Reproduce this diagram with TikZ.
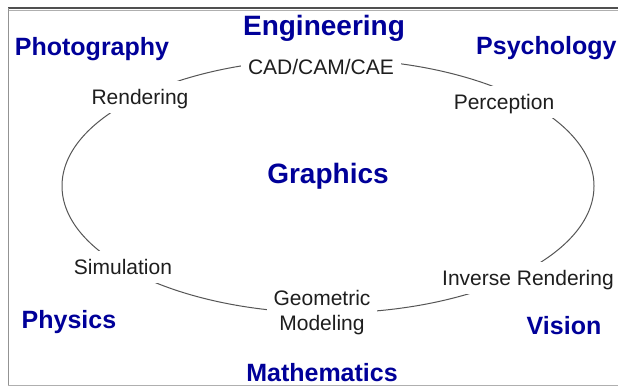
\documentclass[tikz,border=0pt]{standalone}
\usepackage{fontspec}
\setmainfont{Liberation Sans}
\definecolor{fieldblue}{RGB}{0,0,153}
\definecolor{ringgray}{RGB}{85,85,85}
\definecolor{labelink}{RGB}{30,30,30}
\definecolor{framedark}{RGB}{80,80,80}
\definecolor{framelight}{RGB}{175,175,175}
\begin{document}
\begin{tikzpicture}[x=1pt,y=-1pt,
  field/.style={text=fieldblue, font=\fontsize{25}{30}\selectfont\bfseries, anchor=base, inner sep=0pt},
  bigfield/.style={field, font=\fontsize{28}{33}\selectfont\bfseries},
  topic/.style={text=labelink, font=\fontsize{21}{25}\selectfont, fill=white, anchor=base,
                text height=19pt, text depth=4.5pt, inner xsep=7pt, inner ysep=4.5pt},
  geotopic/.style={text=labelink, font=\fontsize{21}{25}\selectfont, fill=white, anchor=north,
                align=center, inner xsep=7pt, inner ysep=4.5pt},
  ring/.style={draw=ringgray, line width=1pt}]
\useasboundingbox (0,0) rectangle (618,386);
\fill[white] (0,0) rectangle (618,386);
% frame
\draw[framedark, line width=1.5pt] (8,8) -- (618,8);
\draw[framelight, line width=1pt] (8,10) -- (618,10);
\draw[framelight!70!framedark, line width=1.8pt] (8.5,8) -- (8.5,386);
\draw[framelight, line width=1.2pt] (8,385.4) -- (618,385.4);
% ring
\draw[ring] (328,186) ellipse [x radius=266pt, y radius=127pt];
% topics on the ring
\node[topic] (cad) at (321,74) {CAD/CAM/CAE};
\node[topic] (rend) at (140,104) {Rendering};
\node[topic] (perc) at (504,109) {Perception};
\node[topic] (sim) at (123,274) {Simulation};
\node[topic] (inv) at (528,285) {Inverse Rendering};
\node[geotopic] (geo) at (322,281.5) {\rule{0pt}{19pt}Geometric\\Modeling\rule[-4.5pt]{0pt}{4.5pt}};
% fields
\node[bigfield] (eng) at (324,35) {Engineering};
\node[field] (photo) at (92,55) {Photography};
\node[field, anchor=base west] (psych) at (476,54) {Psychology};
\node[bigfield] (graph) at (328,183) {Graphics};
\node[field] (phys) at (69,328) {Physics};
\node[field] (vis) at (564,334) {Vision};
\node[field] (math) at (322,381) {Mathematics};
\end{tikzpicture}
\end{document}
